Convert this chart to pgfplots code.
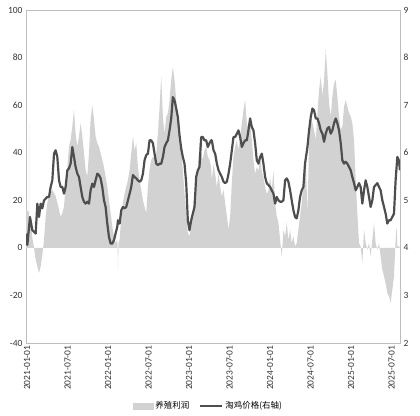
\documentclass[border=0pt]{standalone}
\usepackage{fontspec}
\setmainfont{Carlito}
\newfontfamily\cjk{Noto Sans CJK SC}
\usepackage{pgfplots}
\pgfplotsset{compat=1.18}
\usepackage{pgfplotstable}

\definecolor{areagray}{RGB}{210,210,210}
\definecolor{linegray}{RGB}{78,78,78}
\definecolor{framegray}{RGB}{190,190,190}

% x = months since 2021-01-01
\pgfplotstableread{
m L
-0.15 17.3
-0.05 16
0.27 15
0.30 52
0.33 13
0.54 12
0.80 4
1.04 0
1.28 -5
1.55 -8
1.78 -10.5
2.02 -8
2.27 -3
2.52 3.5
2.76 13
3.01 19
3.26 21.8
3.50 23
3.75 24.4
4.00 23
4.24 21.8
4.49 19
4.74 16
4.98 13
5.23 14.7
5.48 17.3
5.72 25.8
5.97 34
6.22 42.6
6.46 45.4
6.71 51
6.96 58
7.20 48
7.45 42.6
7.70 46.8
7.94 52.4
8.19 46.8
8.44 39.8
8.68 32.8
8.93 30
9.18 39.8
9.42 53.8
9.67 60
9.92 53.8
10.16 46.8
10.41 44
10.66 42.6
10.90 39.8
11.15 37
11.40 34
11.64 30
11.89 25.8
12.14 20
12.38 14.7
12.63 9
12.88 4.9
13.12 2
13.37 3.5
13.42 1
13.47 -9
13.55 2
13.72 3.5
13.96 13
14.21 19
14.46 23
14.70 25.8
14.95 28.6
15.20 32.8
15.44 39.8
15.69 46.8
15.94 41
16.18 44
16.43 34
16.67 28.6
16.92 24.4
17.17 20
17.41 17.3
17.66 14.7
17.91 25.8
18.15 32.8
18.40 37
18.65 38.4
18.89 37
19.14 39.8
19.39 48
19.63 59
19.88 72
20.13 55
20.37 48
20.62 55
20.87 56.6
21.11 62
21.36 70.6
21.60 76
21.85 70.6
22.10 62
22.34 56.6
22.59 51
22.84 41
23.08 32.8
23.33 23
23.58 14.7
23.82 6.3
24.07 4.9
24.32 9
24.56 14.7
24.81 21.8
25.06 28.6
25.30 34
25.55 44
25.80 39.8
26.04 37
26.29 41
26.54 42.6
26.78 38.4
27.03 37
27.27 34
27.38 28.6
27.63 35.3
27.87 31.1
28.12 25.6
28.37 31.1
28.61 25.6
28.86 21.6
29.11 24.4
29.35 18.8
29.60 13.4
29.85 7.6
30.09 13.4
30.34 27.4
30.58 38.4
30.83 42.6
31.08 45.4
31.32 41.2
31.57 46.8
31.82 52.4
32.06 58
32.31 62.2
32.56 52.4
32.80 49.6
33.05 52.4
33.30 45.4
33.54 37
33.79 31.1
34.04 33.9
34.28 32.5
34.53 38.4
34.78 32.5
35.02 29.7
35.27 25.6
35.51 22.7
35.76 24.2
36.01 29.7
36.25 24.2
36.50 32.5
36.75 18.8
36.99 13.4
37.24 10.5
37.49 3.4
37.73 -3.6
37.98 7.6
38.23 4.8
38.47 10.5
38.72 3.4
38.97 7.6
39.21 2
39.46 4.8
39.71 0.6
39.95 2
40.20 7.6
40.44 13.4
40.69 18.8
40.94 27.4
41.18 35.3
41.29 38.4
41.54 14
41.78 44
42.03 55.2
42.28 52.4
42.52 49.6
42.77 45.4
43.02 56.6
43.26 66.4
43.51 72
43.76 63.6
44.00 70.6
44.25 83.2
44.49 73.4
44.74 60.8
44.99 55.2
45.23 63.6
45.48 69.2
45.73 70.6
45.97 63.6
46.22 55.2
46.47 49.6
46.71 51
46.96 59.4
47.21 62.2
47.45 59.4
47.70 56.6
47.95 55.2
48.19 52.4
48.44 45.4
48.69 28.6
48.93 14.6
49.18 2
49.42 0.6
49.67 -6.4
49.92 7.6
50.16 2
50.41 -0.8
50.66 2
50.90 -3.6
51.15 3.4
51.40 10.5
51.64 2
51.89 -0.8
52.14 2
52.38 -3.6
52.63 -9.2
52.88 -12
53.12 -14.8
53.37 -19
53.62 -20.4
53.86 -23.2
54.11 -17.6
54.36 -12
54.60 3.4
54.75 9
54.85 0.6
55.20 0.6
}\profit

\pgfplotstableread{
m R
-0.10 4.30
0.05 4.06
0.44 4.65
0.79 4.37
1.28 4.30
1.53 4.93
1.78 4.65
2.02 4.93
2.27 4.83
2.52 5.00
3.01 5.07
3.26 5.07
3.50 5.28
3.75 5.42
4.00 5.98
4.24 6.05
4.49 5.91
4.74 5.42
4.98 5.28
5.23 5.28
5.48 5.14
5.72 5.28
5.97 5.63
6.22 5.67
6.46 5.77
6.71 6.12
6.96 5.91
7.20 5.70
7.45 5.56
7.70 5.49
7.94 5.28
8.19 5.07
8.44 4.97
8.68 4.93
8.93 4.97
9.18 4.93
9.42 5.21
9.67 5.35
9.92 5.28
10.16 5.42
10.41 5.56
10.66 5.53
10.90 5.46
11.15 5.28
11.40 5.00
11.64 4.86
11.89 4.51
12.14 4.23
12.38 4.09
12.63 4.09
12.88 4.16
13.12 4.30
13.37 4.44
13.47 4.58
13.72 4.51
13.96 4.79
14.21 4.86
14.46 4.83
14.70 4.86
14.95 5.00
15.20 5.14
15.44 5.28
15.69 5.53
15.94 5.49
16.18 5.46
16.43 5.42
16.67 5.39
16.92 5.42
17.17 5.56
17.41 5.84
17.66 5.95
17.91 5.98
18.15 6.26
18.40 6.26
18.65 6.20
18.89 5.98
19.14 5.77
19.39 5.74
19.63 5.77
19.88 5.77
20.13 5.91
20.37 6.12
20.62 6.20
20.87 6.26
21.11 6.47
21.36 6.72
21.60 7.17
21.85 7.10
22.10 6.93
22.34 6.75
22.59 6.37
22.84 6.09
23.08 5.91
23.33 5.77
23.58 5.36
23.82 4.58
24.07 4.37
24.32 4.58
24.56 4.72
24.81 4.86
25.06 5.49
25.30 5.63
25.55 5.70
25.80 6.33
26.04 6.33
26.29 6.26
26.54 6.26
26.78 6.12
27.03 6.20
27.27 6.26
27.38 6.26
27.63 6.05
27.87 5.98
28.12 5.77
28.37 5.63
28.61 5.56
28.86 5.49
29.11 5.39
29.35 5.36
29.60 5.39
29.85 5.56
30.09 5.77
30.34 6.05
30.58 6.33
30.83 6.33
31.08 6.40
31.32 6.47
31.57 6.33
31.82 6.12
32.06 6.20
32.31 6.26
32.56 6.26
32.80 6.47
33.05 6.72
33.30 6.54
33.54 6.47
33.79 6.20
34.04 5.84
34.28 5.77
34.53 5.91
34.78 5.98
35.02 5.77
35.27 5.49
35.51 5.36
35.76 5.32
36.01 5.28
36.25 5.21
36.50 5.14
36.75 4.93
36.99 5.07
37.24 5.00
37.49 4.97
37.73 4.97
37.98 5.00
38.23 5.42
38.47 5.46
38.72 5.39
38.97 5.21
39.21 5.00
39.46 4.79
39.71 4.65
39.95 4.62
40.20 4.79
40.44 5.07
40.69 5.21
40.94 5.28
41.18 5.77
41.54 6.12
41.78 6.47
42.03 6.75
42.28 6.93
42.52 6.89
42.77 6.72
43.02 6.72
43.26 6.62
43.51 6.47
43.76 6.40
44.00 6.23
44.25 6.40
44.49 6.51
44.74 6.54
44.99 6.40
45.23 6.47
45.48 6.62
45.73 6.72
45.97 6.62
46.22 6.47
46.47 6.20
46.71 5.84
46.96 5.77
47.21 5.81
47.45 5.77
47.70 5.70
47.95 5.63
48.19 5.49
48.44 5.36
48.69 5.21
48.93 5.28
49.18 5.36
49.42 5.28
49.67 4.93
49.92 5.21
50.16 5.42
50.41 5.28
50.66 5.07
50.90 4.86
51.15 5.00
51.40 5.28
51.64 5.32
51.89 5.36
52.14 5.28
52.38 5.21
52.63 5.00
52.88 4.86
53.12 4.72
53.37 4.51
53.62 4.58
53.86 4.58
54.11 4.65
54.36 4.72
54.60 5.42
54.85 5.91
55.09 5.84
55.24 5.63
}\price

\pgfplotsset{
  twin/.style={
    width=374bp, height=333bp, scale only axis,
    xmin=-0.15, xmax=55.25,
    axis line style={framegray},
    major tick length=0pt,
    ticklabel style={font=\fontsize{9.5}{11}\selectfont, text=black!80},
    /pgf/number format/assume math mode=true,
  }
}

\begin{document}
\begin{tikzpicture}
\begin{axis}[twin, name=main,
    ymin=-40, ymax=100, ytick={-40,-20,...,100},
    ytick pos=left,
    xtick={0,6,...,54},
    xticklabels={2021-01-01,2021-07-01,2022-01-01,2022-07-01,2023-01-01,2023-07-01,2024-01-01,2024-07-01,2025-01-01,2025-07-01},
    xtick pos=bottom,
    xticklabel style={rotate=90, anchor=east, inner sep=2.5pt},
  ]
  \addplot[draw=none, fill=areagray] table[x=m, y=L] {\profit} \closedcycle;
\end{axis}
\begin{axis}[twin,
    ymin=2, ymax=9, ytick={2,...,9},
    axis x line=none, axis y line*=right,
    legend style={at={(0.488,-0.189)}, anchor=center, draw=none, fill=none,
      legend columns=2, font=\cjk\fontsize{8.5}{10}\selectfont,
      /tikz/every even column/.append style={column sep=8bp}},
  ]
  \addlegendimage{legend image code/.code={\fill[areagray] (0bp,-3bp) rectangle (20bp,3bp);}}
  \addlegendentry{养殖利润}
  \addplot[linegray, line width=2.2pt, line join=round,
    legend image code/.code={\draw[linegray, line width=2.2pt] (0bp,0bp) -- (22bp,0bp);}]
    table[x=m, y=R] {\price};
  \addlegendentry{淘鸡价格(右轴)}
\end{axis}
\path (main.south west) ++(-26bp,-73bp) rectangle ++(420bp,416bp);
\end{tikzpicture}
\end{document}
